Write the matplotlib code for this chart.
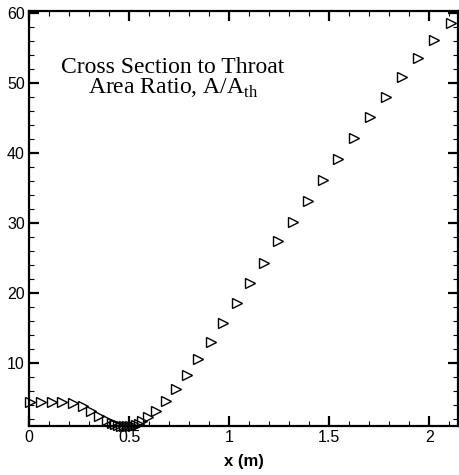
import numpy as np
import matplotlib.pyplot as plt
from matplotlib.ticker import MultipleLocator

plt.rcParams['mathtext.fontset'] = 'custom'
plt.rcParams['mathtext.rm'] = 'Liberation Serif'

# area ratio along the nozzle
x_m = [0.005, 0.058, 0.113, 0.166, 0.218, 0.268, 0.31, 0.35, 0.391,
       0.415, 0.43, 0.445, 0.46, 0.475, 0.49, 0.505, 0.52, 0.535, 0.55,
       0.563, 0.596, 0.635, 0.684, 0.734, 0.791, 0.846, 0.908,
       0.971, 1.038, 1.104, 1.174, 1.246, 1.321, 1.395, 1.47, 1.545,
       1.624, 1.704, 1.784, 1.862, 1.945, 2.023, 2.107]
area_ratio = [4.51, 4.51, 4.51, 4.43, 4.29, 3.94, 3.23, 2.51, 1.9,
              1.5, 1.3, 1.15, 1.05, 1.0, 1.0, 1.0, 1.05, 1.15, 1.3,
              1.8, 2.29, 3.23, 4.61, 6.29, 8.33, 10.57, 13.09,
              15.8, 18.66, 21.51, 24.37, 27.47, 30.23, 33.19, 36.14, 39.19,
              42.23, 45.23, 48.09, 50.86, 53.57, 56.19, 58.66]

fig = plt.figure(figsize=(4.59, 4.75), dpi=100)
ax = fig.add_axes([0.063, 0.103, 0.935, 0.874])

ax.plot(x_m, area_ratio, linestyle='none', marker='>', markersize=7.5,
        markerfacecolor='none', markeredgecolor='black', markeredgewidth=1.0,
        clip_on=False)

ax.set_xlim(0, 2.143)
ax.set_ylim(1.04, 60.33)

ax.xaxis.set_minor_locator(MultipleLocator(0.1))
ax.yaxis.set_minor_locator(MultipleLocator(2))
ax.set_yticks([10, 20, 30, 40, 50, 60])
ax.set_xticks([0, 0.5, 1, 1.5, 2])
ax.set_xticklabels(['0', '0.5', '1', '1.5', '2'])

ax.tick_params(which='both', direction='in', top=True, right=True)
ax.tick_params(which='major', length=7, width=1.6, pad=3,
               labelsize=11.5)
ax.tick_params(which='minor', length=3.5, width=0.8)
for lab in ax.get_xticklabels() + ax.get_yticklabels():
    lab.set_fontfamily('Liberation Sans')
for s in ax.spines.values():
    s.set_linewidth(1.6)

ax.set_xlabel('x (m)', fontsize=12, fontweight='bold',
              fontfamily='Liberation Sans', labelpad=6)

ax.text(0.336, 0.838, 'Cross Section to Throat\nArea Ratio, A/A$_{\\mathrm{th}}$',
        transform=ax.transAxes, ha='center', va='center',
        multialignment='center', fontsize=17, fontfamily='Liberation Serif',
        linespacing=0.95)

fig.savefig('out.png', dpi=100)
